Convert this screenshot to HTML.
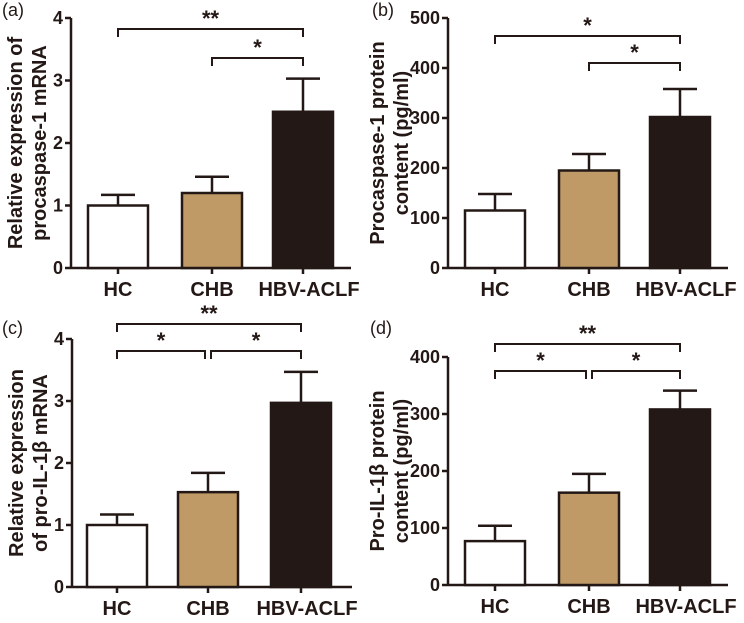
<!DOCTYPE html>
<html><head><meta charset="utf-8"><style>
body{margin:0;background:#fff;width:744px;height:618px;overflow:hidden}
svg text{font-family:"Liberation Sans",sans-serif}
</style></head><body>
<svg id="c" width="744" height="618"></svg>
<script>
const categories=["HC","CHB","HBV-ACLF"];
const valsA=[1.0,1.2,2.5], errA=[0.17,0.26,0.53], ticksA=["0","1","2","3","4"];
const valsB=[115,195,302], errB=[33,33,56], ticksB=["0","100","200","300","400","500"];
const valsC=[1.0,1.53,2.97], errC=[0.17,0.31,0.5], ticksC=["0","1","2","3","4"];
const valsD=[77,162,308], errD=[27,33,33], ticksD=["0","100","200","300","400"];
const fills=["#ffffff","#c09a66","#231815"];
const svg=document.getElementById('c');
const NS="http://www.w3.org/2000/svg";
function mk(t,a,p){const e=document.createElementNS(NS,t);for(const k in a)e.setAttribute(k,a[k]);(p||svg).appendChild(e);return e;}
const C="#231815";
function panel(o){
  const g=mk('g',{});
  
  
  const ticks=o.ticks.map(Number), max=ticks[ticks.length-1];
  const y=v=>o.y0-(v/max)*(o.y0-o.yTop);
  const x=i=>o.ax+o.cx[i];
  mk('line',{x1:o.ax,y1:o.yTop,x2:o.ax,y2:o.y0,stroke:C,'stroke-width':2.5},g);
  mk('line',{x1:o.ax,y1:o.y0,x2:o.ax+280,y2:o.y0,stroke:C,'stroke-width':2.5},g);
  o.ticks.forEach((t,i)=>{const yy=y(ticks[i]);
    mk('line',{x1:o.ax-6,y1:yy,x2:o.ax,y2:yy,stroke:C,'stroke-width':2.5},g);
    const tx=mk('text',{x:o.ax-8,y:yy+6,'text-anchor':'end','font-size':18,'font-weight':'bold',fill:C},g);tx.textContent=t;
    
    
  });
  categories.forEach((c,i)=>{
    const xc=x(i), v=o.vals[i], e=o.err[i];
    mk('line',{x1:xc,y1:o.y0,x2:xc,y2:o.y0+6,stroke:C,'stroke-width':2.5},g);
    mk('line',{x1:xc,y1:y(v+e),x2:xc,y2:y(v),stroke:C,'stroke-width':2.5},g);
    mk('line',{x1:xc-17,y1:y(v+e),x2:xc+17,y2:y(v+e),stroke:C,'stroke-width':2.5},g);
    const r=mk('rect',{x:xc-30,y:y(v),width:60,height:o.y0-y(v),fill:fills[i],stroke:C,'stroke-width':2.5},g);
    
    
    const t=mk('text',{x:xc+(i==2?6:0),y:o.y0+28,'text-anchor':'middle','font-size':20,'font-weight':'bold',fill:C},g);t.textContent=c;
    
    
  });
  o.brackets.forEach(b=>{
    const x1=x(b[0])+(b[3]||0),x2=x(b[1])+(b[4]||0),yy=b[2];
    mk('path',{d:`M${x1},${yy+8}V${yy}H${x2}V${yy+8}`,fill:'none',stroke:C,'stroke-width':2},g);
    const t=mk('text',{x:(x1+x2)/2,y:yy-3,'text-anchor':'middle','font-size':22,'font-weight':'bold',fill:C},g);t.textContent=b[5];
    
    
  });
  const tl=mk('text',{transform:`translate(${o.ax-o.toff},${(o.y0+o.yTop)/2}) rotate(-90)`,'text-anchor':'middle','font-size':20,'font-weight':'bold',fill:C},g);
  
  
  mk('tspan',{x:0,dy:0},tl).textContent=o.t1;
  mk('tspan',{x:0,dy:24},tl).textContent=o.t2;
  const pl=mk('text',{x:o.lx,y:o.ly,'font-size':18,fill:C},g);pl.textContent=o.id;
  
  
}
const cx=[47,141,232];
panel({id:'(a)',ax:71,y0:268,yTop:18,toff:49,ticks:ticksA,vals:valsA,err:errA,cx:cx,t1:'Relative expression of',t2:'procaspase-1 mRNA',lx:2,ly:16,
  brackets:[[0,2,29,0,0,'**'],[1,2,58,0,0,'*']]});
panel({id:'(b)',ax:448,y0:268,yTop:18,toff:64,ticks:ticksB,vals:valsB,err:errB,cx:cx,t1:'Procaspase-1 protein',t2:'content (pg/ml)',lx:372,ly:16,
  brackets:[[0,2,36,0,0,'*'],[1,2,63,0,0,'*']]});
panel({id:'(c)',ax:72,y0:587,yTop:339,toff:49,ticks:ticksC,vals:valsC,err:errC,cx:[45,136,229],t1:'Relative expression',t2:'of pro-IL-1β mRNA',lx:2,ly:334,
  brackets:[[0,2,324,0,0,'**'],[0,1,351,0,-3,'*'],[1,2,351,3,0,'*']]});
panel({id:'(d)',ax:448,y0:585,yTop:357,toff:64,ticks:ticksD,vals:valsD,err:errD,cx:cx,t1:'Pro-IL-1β protein',t2:'content (pg/ml)',lx:370,ly:334,
  brackets:[[0,2,344,0,0,'**'],[0,1,371,0,-3,'*'],[1,2,371,3,0,'*']]});
</script>
</body></html>
